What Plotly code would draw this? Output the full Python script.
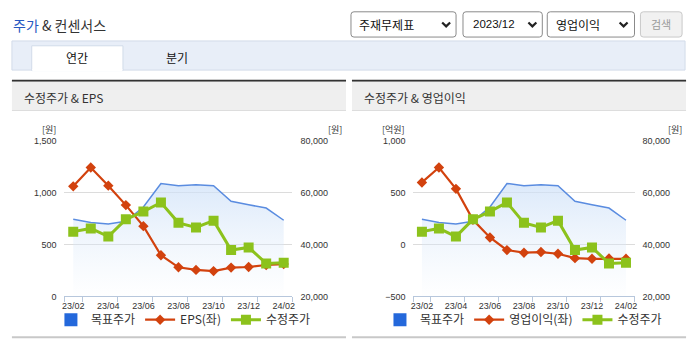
import plotly.graph_objects as go

W, H = 695, 349

months = ["23/02", "23/03", "23/04", "23/05", "23/06", "23/07", "23/08",
          "23/09", "23/10", "23/11", "23/12", "24/01", "24/02"]
target_price = [49750, 48500, 48000, 49000, 54500, 63600, 62750, 63100, 62750, 56750, 55400, 54100, 49400]
adj_price = [45000, 46250, 43100, 49750, 52750, 56250, 48400, 46600, 49250, 37900, 38900, 32750, 33000]
eps = [1062, 1244, 1069, 881, 678, 397, 281, 256, 244, 278, 284, 303, 312]
op_income = [600, 744, 538, 240, 69, -53, -78, -72, -88, -131, -137, -134, -137]

x_idx = list(range(len(months)))
label_idx = x_idx[::2]
label_txt = months[::2]
minor_ticks = [-0.5] + [i + 0.5 for i in x_idx[::2][:-1]] + [len(months) - 0.5]


def px(x):
    return x / W


def py(y):
    return 1 - y / H


BLUE = "#5a8ce0"
RED = "#d2420e"
GREEN = "#8cc21c"
KFONT = "Noto Sans CJK KR, Noto Sans, sans-serif"
NFONT = "Liberation Sans, Arial, sans-serif"

fig = go.Figure()

panels = [
    dict(x="x", yp="y", yv="y2", yg="y5", val=eps, name="EPS(좌)", legend="legend"),
    dict(x="x2", yp="y3", yv="y4", yg="y6", val=op_income, name="영업이익(좌)", legend="legend2"),
]

for p in panels:
    fig.add_trace(go.Scatter(
        x=x_idx, y=target_price, xaxis=p["x"], yaxis=p["yp"], mode="lines",
        line=dict(color=BLUE, width=1.5), fill="tozeroy",
        fillgradient=dict(type="vertical", start=20000, stop=66000,
                          colorscale=[[0, "rgba(225,237,250,0)"], [1, "rgba(205,224,248,0.75)"]]),
        showlegend=False, hoverinfo="skip"))
    fig.add_trace(go.Scatter(
        x=[None], y=[None], xaxis=p["x"], yaxis=p["yp"], mode="markers", name="목표주가",
        marker=dict(symbol="square", size=13, color="#2468db"), legend=p["legend"], legendrank=1))
    fig.add_trace(go.Scatter(
        x=x_idx, y=p["val"], xaxis=p["x"], yaxis=p["yv"], mode="lines+markers", name=p["name"],
        line=dict(color=RED, width=2.2), marker=dict(symbol="diamond", size=8, color=RED),
        legend=p["legend"], legendrank=2))
    fig.add_trace(go.Scatter(
        x=x_idx, y=adj_price, xaxis=p["x"], yaxis=p["yg"], mode="lines+markers", name="수정주가",
        line=dict(color=GREEN, width=3), marker=dict(symbol="square", size=10, color=GREEN),
        legend=p["legend"], legendrank=3))

ydom = [py(300), py(140)]
tickfont = dict(family=NFONT, size=9, color="#333")


def xaxis_cfg(dom, anchor):
    return dict(domain=dom, anchor=anchor, range=[-0.5, len(months) - 0.5],
                tickmode="array", tickvals=label_idx, ticktext=label_txt, ticks="",
                showgrid=False, zeroline=False, showline=True, linecolor="#b7c7dc", linewidth=1,
                tickfont=tickfont, ticklabelstandoff=1,
                minor=dict(tickmode="array", tickvals=minor_ticks, ticks="outside", ticklen=5,
                           tickcolor="#b7c7dc", tickwidth=1, showgrid=False))


price_axis = dict(range=[20000, 80000], tickmode="array", tickvals=[20000, 40000, 60000, 80000],
                  tickformat=",", showgrid=False, zeroline=False, showline=False, tickfont=tickfont,
                  side="right", ticks="", ticklabelstandoff=7)

fig.update_layout(
    width=W, height=H, autosize=False, margin=dict(l=0, r=0, t=0, b=0),
    paper_bgcolor="white", plot_bgcolor="rgba(0,0,0,0)",
    xaxis=xaxis_cfg([px(62), px(292)], "y"),
    xaxis2=xaxis_cfg([px(414), px(637)], "y3"),
    yaxis=dict(domain=ydom, anchor="x", **price_axis),
    yaxis2=dict(overlaying="y", anchor="x", side="left", range=[0, 1500],
                tickvals=[0, 500, 1000, 1500], tickformat=",", showgrid=True, gridcolor="#dcdcdc",
                zeroline=False, showline=False, tickfont=tickfont, ticks="", ticklabelstandoff=7),
    yaxis5=dict(overlaying="y", anchor="x", range=[20000, 80000], visible=False),
    yaxis3=dict(domain=ydom, anchor="x2", **price_axis),
    yaxis4=dict(overlaying="y3", anchor="x2", side="left", range=[-500, 1000],
                tickvals=[-500, 0, 500, 1000], tickformat=",", showgrid=True, gridcolor="#dcdcdc",
                zeroline=False, showline=False, tickfont=tickfont, ticks="", ticklabelstandoff=7),
    yaxis6=dict(overlaying="y3", anchor="x2", range=[20000, 80000], visible=False),
    legend=dict(orientation="h", x=px(182), xanchor="center", y=py(324), yanchor="middle",
                font=dict(family=KFONT, size=12, color="#333"), itemwidth=30,
                bgcolor="rgba(0,0,0,0)", tracegroupgap=0, traceorder="normal"),
    legend2=dict(orientation="h", x=px(525), xanchor="center", y=py(324), yanchor="middle",
                 font=dict(family=KFONT, size=12, color="#333"), itemwidth=30,
                 bgcolor="rgba(0,0,0,0)", traceorder="normal"),
)

shapes = []


def rect(x0, y0, x1, y1, fill, line=None, lw=0):
    shapes.append(dict(type="rect", xref="paper", yref="paper", x0=px(x0), x1=px(x1),
                       y0=py(y1), y1=py(y0), fillcolor=fill,
                       line=dict(color=line or fill, width=lw), layer="below"))


def rrect(x0, y0, x1, y1, fill, line, r=3):
    path = (f"M {px(x0 + r)},{py(y0)} L {px(x1 - r)},{py(y0)} Q {px(x1)},{py(y0)} {px(x1)},{py(y0 + r)} "
            f"L {px(x1)},{py(y1 - r)} Q {px(x1)},{py(y1)} {px(x1 - r)},{py(y1)} "
            f"L {px(x0 + r)},{py(y1)} Q {px(x0)},{py(y1)} {px(x0)},{py(y1 - r)} "
            f"L {px(x0)},{py(y0 + r)} Q {px(x0)},{py(y0)} {px(x0 + r)},{py(y0)} Z")
    shapes.append(dict(type="path", xref="paper", yref="paper", path=path, fillcolor=fill,
                       line=dict(color=line, width=1), layer="below"))


def chevron(cx, cy):
    path = f"M {px(cx - 4)},{py(cy - 2)} L {px(cx)},{py(cy + 2)} L {px(cx + 4)},{py(cy - 2)}"
    shapes.append(dict(type="path", xref="paper", yref="paper", path=path,
                       line=dict(color="#222", width=2.2)))


# tab bar
rect(9, 37, 688, 67, "#e8eef8", "#d2dbe9", 1)
rect(29, 42, 121, 67.5, "#ffffff", "#d2dbe9", 1)
rect(29.5, 66, 120.5, 68, "#ffffff")
# panels
for x0, x1 in [(9, 346), (352, 689)]:
    rect(x0, 77, x1, 79, "#333333")
    rect(x0, 79, x1, 108, "#efefef")
    rect(x0, 108, x1, 109, "#dddddd")
    rect(x0, 341, x1, 343, "#c8c8c8")
# dropdowns
rrect(351, 7, 457, 33, "white", "#8a8a8a")
rrect(464, 7, 544, 33, "white", "#8a8a8a")
rrect(549, 7, 637, 33, "white", "#8a8a8a")
rrect(643, 7, 685, 33, "#f1f1f1", "#c9c9c9")
chevron(447, 20)
chevron(534, 20)
chevron(626, 20)

annotations = []


def text(x, y, s, size, color="#333", anchor="left", family=KFONT):
    annotations.append(dict(xref="paper", yref="paper", x=px(x), y=py(y), text=s, showarrow=False,
                            xanchor=anchor, yanchor="middle",
                            font=dict(family=family, size=size, color=color)))


text(8, 21, '<span style="color:#2658c2">주가</span> & 컨센서스', 14, "#333")
text(75, 54, "연간", 12, "#111", "center")
text(176, 54, "분기", 12, "#111", "center")
text(357, 20, "주재무제표", 12, "#111")
text(472, 20, "2023/12", 11.5, "#111", family=NFONT)
text(556, 20, "영업이익", 12, "#111")
text(664, 20, "검색", 11, "#9a9a9a", "center")
text(19, 95, "수정주가 & EPS", 12, "#333")
text(362, 95, "수정주가 & 영업이익", 12, "#333")
text(46, 128, "[원]", 9, "#333", "center")
text(335, 128, "[원]", 9, "#333", "center")
text(394, 128, "[억원]", 9, "#333", "center")
text(678, 128, "[원]", 9, "#333", "center")

fig.update_layout(shapes=shapes, annotations=annotations)

fig.write_html("out.html")
